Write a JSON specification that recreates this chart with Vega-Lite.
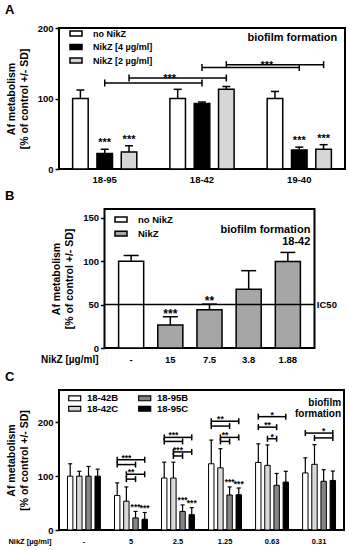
{
  "$schema": "https://vega.github.io/schema/vega-lite/v6.json",
  "padding": {"left": 4, "top": 3, "right": 2, "bottom": 2},
  "spacing": 5,
  "resolve": {"scale": {"fill": "independent", "x": "independent", "y": "independent", "xOffset": "independent"}, "legend": {"fill": "independent"}},
  "config": {
    "font": "Liberation Sans",
    "view": {"stroke": "black", "strokeWidth": 2},
    "axis": {"labelFont": "Liberation Sans", "titleFont": "Liberation Sans", "labelFontWeight": "bold", "titleFontWeight": "bold", "labelColor": "black", "titleColor": "black", "tickColor": "black", "domainColor": "black", "grid": false, "domain": false, "tickWidth": 1.5, "tickSize": 4},
    "axisY": {"labelFontSize": 9.5, "titleFontSize": 10.5, "labelPadding": 2, "titlePadding": 8, "titleLineHeight": 13},
    "axisX": {"ticks": false, "labelAngle": 0, "labelFontSize": 9.5, "labelPadding": 5},
    "legend": {"labelFont": "Liberation Sans", "labelFontWeight": "bold", "labelColor": "black", "symbolStrokeColor": "black", "symbolType": "M-1.5,-0.6H1.5V0.6H-1.5Z", "symbolSize": 64, "symbolOpacity": 1},
    "text": {"font": "Liberation Sans", "fontWeight": "bold", "color": "black"},
    "title": {"font": "Liberation Sans", "fontWeight": "bold", "fontSize": 13, "anchor": "start", "frame": "group", "color": "black"}
  },
  "datasets": {
    "a": [
      {"grp": "18-95", "trt": "no NikZ", "mean": 100, "hi": 112, "sig": ""},
      {"grp": "18-95", "trt": "NikZ [4 µg/ml]", "mean": 22, "hi": 28, "sig": "***"},
      {"grp": "18-95", "trt": "NikZ [2 µg/ml]", "mean": 24, "hi": 33, "sig": "***"},
      {"grp": "18-42", "trt": "no NikZ", "mean": 100, "hi": 113, "sig": ""},
      {"grp": "18-42", "trt": "NikZ [4 µg/ml]", "mean": 93, "hi": 95, "sig": ""},
      {"grp": "18-42", "trt": "NikZ [2 µg/ml]", "mean": 113, "hi": 117, "sig": ""},
      {"grp": "19-40", "trt": "no NikZ", "mean": 100, "hi": 110, "sig": ""},
      {"grp": "19-40", "trt": "NikZ [4 µg/ml]", "mean": 27, "hi": 31, "sig": "***"},
      {"grp": "19-40", "trt": "NikZ [2 µg/ml]", "mean": 28, "hi": 34.5, "sig": "***"}
    ],
    "aBr": [
      {"id": 1, "grp": "18-95", "trt": "NikZ [4 µg/ml]", "y": 122},
      {"id": 1, "grp": "18-42", "trt": "NikZ [4 µg/ml]", "y": 122},
      {"id": 2, "grp": "18-95", "trt": "NikZ [2 µg/ml]", "y": 129},
      {"id": 2, "grp": "18-42", "trt": "NikZ [2 µg/ml]", "y": 129},
      {"id": 3, "grp": "18-42", "trt": "NikZ [4 µg/ml]", "y": 144},
      {"id": 3, "grp": "19-40", "trt": "NikZ [4 µg/ml]", "y": 144},
      {"id": 4, "grp": "18-42", "trt": "NikZ [2 µg/ml]", "y": 148},
      {"id": 4, "grp": "19-40", "trt": "NikZ [2 µg/ml]", "y": 148}
    ],
    "aSig": [
      {"grp": "18-42", "trt": "no NikZ", "y": 129, "label": "***"},
      {"grp": "19-40", "trt": "no NikZ", "y": 148, "label": "***"}
    ],
    "b": [
      {"conc": "-", "trt": "no NikZ", "mean": 100, "hi": 106.5, "sig": ""},
      {"conc": "15", "trt": "NikZ", "mean": 26.5, "hi": 36, "sig": "***"},
      {"conc": "7.5", "trt": "NikZ", "mean": 44, "hi": 50.5, "sig": "**"},
      {"conc": "3.8", "trt": "NikZ", "mean": 67.5, "hi": 89, "sig": ""},
      {"conc": "1.88", "trt": "NikZ", "mean": 99.5, "hi": 110, "sig": ""}
    ],
    "c": [
      {"grp": "-", "ser": "18-42B", "mean": 100, "hi": 123, "sig": ""},
      {"grp": "-", "ser": "18-42C", "mean": 100, "hi": 109, "sig": ""},
      {"grp": "-", "ser": "18-95B", "mean": 100, "hi": 118, "sig": ""},
      {"grp": "-", "ser": "18-95C", "mean": 100, "hi": 113, "sig": ""},
      {"grp": "5", "ser": "18-42B", "mean": 64, "hi": 87.5, "sig": ""},
      {"grp": "5", "ser": "18-42C", "mean": 53.5, "hi": 80, "sig": ""},
      {"grp": "5", "ser": "18-95B", "mean": 22.5, "hi": 34.5, "sig": "***"},
      {"grp": "5", "ser": "18-95C", "mean": 20, "hi": 32.5, "sig": "***"},
      {"grp": "2.5", "ser": "18-42B", "mean": 96.5, "hi": 126, "sig": ""},
      {"grp": "2.5", "ser": "18-42C", "mean": 96.5, "hi": 126, "sig": ""},
      {"grp": "2.5", "ser": "18-95B", "mean": 34.5, "hi": 46.5, "sig": "***"},
      {"grp": "2.5", "ser": "18-95C", "mean": 28.5, "hi": 41.5, "sig": "***"},
      {"grp": "1.25", "ser": "18-42B", "mean": 123, "hi": 167, "sig": ""},
      {"grp": "1.25", "ser": "18-42C", "mean": 115.5, "hi": 151, "sig": ""},
      {"grp": "1.25", "ser": "18-95B", "mean": 65, "hi": 80, "sig": "***"},
      {"grp": "1.25", "ser": "18-95C", "mean": 65.5, "hi": 78, "sig": "***"},
      {"grp": "0.63", "ser": "18-42B", "mean": 125.5, "hi": 160, "sig": ""},
      {"grp": "0.63", "ser": "18-42C", "mean": 120, "hi": 158, "sig": ""},
      {"grp": "0.63", "ser": "18-95B", "mean": 83, "hi": 105, "sig": ""},
      {"grp": "0.63", "ser": "18-95C", "mean": 89, "hi": 109, "sig": ""},
      {"grp": "0.31", "ser": "18-42B", "mean": 106, "hi": 134, "sig": ""},
      {"grp": "0.31", "ser": "18-42C", "mean": 122, "hi": 158.5, "sig": ""},
      {"grp": "0.31", "ser": "18-95B", "mean": 90.5, "hi": 112, "sig": ""},
      {"grp": "0.31", "ser": "18-95C", "mean": 92, "hi": 109.5, "sig": ""}
    ],
    "cBr": [
      {"id": 1, "grp": "5", "ser": "18-42B", "y": 130.5}, {"id": 1, "grp": "5", "ser": "18-95C", "y": 130.5},
      {"id": 2, "grp": "5", "ser": "18-42B", "y": 121.5}, {"id": 2, "grp": "5", "ser": "18-95B", "y": 121.5},
      {"id": 3, "grp": "5", "ser": "18-42C", "y": 103.5}, {"id": 3, "grp": "5", "ser": "18-95C", "y": 103.5},
      {"id": 4, "grp": "5", "ser": "18-42C", "y": 94.5}, {"id": 4, "grp": "5", "ser": "18-95B", "y": 94.5},
      {"id": 5, "grp": "2.5", "ser": "18-42B", "y": 172}, {"id": 5, "grp": "2.5", "ser": "18-95C", "y": 172},
      {"id": 6, "grp": "2.5", "ser": "18-42B", "y": 164.5}, {"id": 6, "grp": "2.5", "ser": "18-95B", "y": 164.5},
      {"id": 7, "grp": "2.5", "ser": "18-42C", "y": 145}, {"id": 7, "grp": "2.5", "ser": "18-95C", "y": 145},
      {"id": 8, "grp": "2.5", "ser": "18-42C", "y": 137.5}, {"id": 8, "grp": "2.5", "ser": "18-95B", "y": 137.5},
      {"id": 9, "grp": "1.25", "ser": "18-42B", "y": 202}, {"id": 9, "grp": "1.25", "ser": "18-95C", "y": 202},
      {"id": 10, "grp": "1.25", "ser": "18-42B", "y": 193}, {"id": 10, "grp": "1.25", "ser": "18-95B", "y": 193},
      {"id": 11, "grp": "1.25", "ser": "18-42C", "y": 172}, {"id": 11, "grp": "1.25", "ser": "18-95C", "y": 172},
      {"id": 12, "grp": "1.25", "ser": "18-42C", "y": 164.5}, {"id": 12, "grp": "1.25", "ser": "18-95B", "y": 164.5},
      {"id": 13, "grp": "0.63", "ser": "18-42B", "y": 210.5}, {"id": 13, "grp": "0.63", "ser": "18-95C", "y": 210.5},
      {"id": 14, "grp": "0.63", "ser": "18-42B", "y": 191}, {"id": 14, "grp": "0.63", "ser": "18-95B", "y": 191},
      {"id": 15, "grp": "0.63", "ser": "18-42C", "y": 169.5}, {"id": 15, "grp": "0.63", "ser": "18-95B", "y": 169.5},
      {"id": 16, "grp": "0.31", "ser": "18-42B", "y": 180}, {"id": 16, "grp": "0.31", "ser": "18-95C", "y": 180},
      {"id": 17, "grp": "0.31", "ser": "18-42C", "y": 171}, {"id": 17, "grp": "0.31", "ser": "18-95C", "y": 171}
    ],
    "cSig": [
      {"grp": "5", "ser": "18-42C", "y": 130.5, "label": "***"},
      {"grp": "5", "ser": "mid", "y": 103.5, "label": "**"},
      {"grp": "2.5", "ser": "18-42C", "y": 172, "label": "***"},
      {"grp": "2.5", "ser": "mid", "y": 145, "label": "***"},
      {"grp": "1.25", "ser": "18-42C", "y": 202, "label": "**"},
      {"grp": "1.25", "ser": "mid", "y": 172, "label": "**"},
      {"grp": "0.63", "ser": "mid", "y": 210.5, "label": "*"},
      {"grp": "0.63", "ser": "18-42C", "y": 191, "label": "**"},
      {"grp": "0.63", "ser": "mid", "y": 169.5, "label": "*"},
      {"grp": "0.31", "ser": "18-95B", "y": 180, "label": "*"}
    ]
  },
  "vconcat": [
    {
      "width": 286, "height": 141,
      "title": {"text": "A", "dx": -54, "offset": 6},
      "encoding": {
        "x": {"field": "grp", "type": "nominal", "scale": {"domain": ["18-95", "18-42", "19-40"], "paddingInner": 0.34, "paddingOuter": 0.14}, "axis": {"title": null}},
        "xOffset": {"field": "trt", "type": "nominal", "scale": {"domain": ["no NikZ", "NikZ [4 µg/ml]", "NikZ [2 µg/ml]"], "paddingInner": 0.36, "paddingOuter": 0}}
      },
      "layer": [
        {
          "data": {"name": "a"},
          "mark": {"type": "bar", "stroke": "black", "strokeWidth": 1.5},
          "encoding": {
            "y": {"field": "mean", "type": "quantitative", "scale": {"domain": [0, 200]}, "axis": {"values": [0, 50, 100, 150, 200], "title": ["Af metabolism", "[% of control +/- SD]"]}},
            "fill": {"field": "trt", "type": "nominal", "scale": {"domain": ["no NikZ", "NikZ [4 µg/ml]", "NikZ [2 µg/ml]"], "range": ["white", "black", "#d6d6d6"]},
              "legend": {"title": null, "orient": "none", "legendX": 12, "legendY": 0.5, "labelFontSize": 9, "labelOffset": 12, "rowPadding": 1.5, "symbolStrokeWidth": 1.5}}
          }
        },
        {
          "data": {"name": "a"},
          "mark": {"type": "rule", "strokeWidth": 1.5, "color": "black"},
          "encoding": {"y": {"field": "hi", "type": "quantitative"}, "y2": {"field": "mean"}}
        },
        {
          "data": {"name": "a"},
          "mark": {"type": "tick", "thickness": 1.5, "size": 8, "color": "black", "opacity": 1},
          "encoding": {"y": {"field": "hi", "type": "quantitative"}}
        },
        {
          "data": {"name": "a"},
          "transform": [{"filter": "datum.sig != ''"}],
          "mark": {"type": "text", "fontSize": 11, "dy": -3, "baseline": "alphabetic"},
          "encoding": {"y": {"field": "hi", "type": "quantitative"}, "text": {"field": "sig"}}
        },
        {
          "data": {"name": "aBr"},
          "mark": {"type": "line", "strokeWidth": 1.5, "color": "black"},
          "encoding": {"y": {"field": "y", "type": "quantitative"}, "detail": {"field": "id"}}
        },
        {
          "data": {"name": "aBr"},
          "mark": {"type": "tick", "orient": "vertical", "thickness": 1.5, "size": 7, "color": "black", "opacity": 1},
          "encoding": {"y": {"field": "y", "type": "quantitative"}}
        },
        {
          "data": {"name": "aSig"},
          "mark": {"type": "text", "fontSize": 11, "dx": -8, "dy": 4, "baseline": "alphabetic"},
          "encoding": {"y": {"field": "y", "type": "quantitative"}, "text": {"field": "label"}}
        },
        {
          "data": {"values": [{}]},
          "mark": {"type": "text", "text": "biofilm formation", "fontSize": 11, "align": "right", "dx": 38, "baseline": "alphabetic"},
          "encoding": {"x": {"datum": "19-40", "type": "nominal"}, "xOffset": {"datum": "NikZ [4 µg/ml]", "type": "nominal"}, "y": {"datum": 181, "type": "quantitative"}}
        }
      ]
    },
    {
      "bounds": "flush",
      "spacing": 44.5,
      "resolve": {"scale": {"fill": "independent"}, "legend": {"fill": "independent"}},
      "hconcat": [
        {
          "width": 1, "height": 139,
          "view": {"stroke": null},
          "title": {"text": "B", "dx": -54, "offset": 6},
          "data": {"values": [{}]},
          "mark": {"type": "text", "text": ""},
          "encoding": {}
        },
        {
          "width": 210, "height": 139,
          "layer": [
            {
              "data": {"name": "b"},
              "mark": {"type": "bar", "stroke": "black", "strokeWidth": 1.5},
              "encoding": {
                "x": {"field": "conc", "type": "nominal", "title": "NikZ [µg/ml]", "scale": {"domain": ["-", "15", "7.5", "3.8", "1.88"], "paddingInner": 0.36, "paddingOuter": 0.36},
                  "axis": {"titleFontSize": 10, "titleAnchor": "start", "titleAlign": "right", "titleBaseline": "top", "titleX": -6.5, "titleY": 6, "labelBaseline": "top", "labelPadding": 6, "labelFontSize": 9.5}},
                "y": {"field": "mean", "type": "quantitative", "scale": {"domain": [0, 150]}, "axis": {"values": [0, 50, 100, 150], "title": ["Af metabolism", "[% of control +/- SD]"]}},
                "fill": {"field": "trt", "type": "nominal", "scale": {"domain": ["no NikZ", "NikZ"], "range": ["white", "#a6a6a6"]},
                  "legend": {"title": null, "orient": "none", "legendX": 11.5, "legendY": 5.5, "labelFontSize": 9.5, "labelOffset": 12, "rowPadding": 2.2, "symbolStrokeWidth": 1.5}}
              }
            },
            {
              "data": {"name": "b"},
              "mark": {"type": "rule", "strokeWidth": 1.5, "color": "black"},
              "encoding": {"x": {"field": "conc", "type": "nominal", "title": "NikZ [µg/ml]"}, "y": {"field": "hi", "type": "quantitative"}, "y2": {"field": "mean"}}
            },
            {
              "data": {"name": "b"},
              "mark": {"type": "tick", "thickness": 1.5, "size": 15, "color": "black", "opacity": 1},
              "encoding": {"x": {"field": "conc", "type": "nominal", "title": "NikZ [µg/ml]"}, "y": {"field": "hi", "type": "quantitative"}}
            },
            {
              "data": {"name": "b"},
              "transform": [{"filter": "datum.sig != ''"}],
              "mark": {"type": "text", "fontSize": 12, "dy": 1, "baseline": "alphabetic"},
              "encoding": {"x": {"field": "conc", "type": "nominal", "title": "NikZ [µg/ml]"}, "y": {"field": "hi", "type": "quantitative"}, "text": {"field": "sig"}}
            },
            {
              "data": {"values": [{}]},
              "mark": {"type": "rule", "strokeWidth": 1.5, "color": "black"},
              "encoding": {"y": {"datum": 50, "type": "quantitative"}}
            },
            {
              "data": {"values": [{}]},
              "mark": {"type": "text", "text": "IC50", "fontSize": 9.5, "align": "left", "dx": 29, "baseline": "middle"},
              "encoding": {"x": {"datum": "1.88", "type": "nominal"}, "y": {"datum": 50, "type": "quantitative"}}
            },
            {
              "data": {"values": [{}]},
              "mark": {"type": "text", "text": ["biofilm formation", "18-42"], "fontSize": 11, "lineHeight": 12, "align": "right", "dx": 22.5, "baseline": "alphabetic"},
              "encoding": {"x": {"datum": "1.88", "type": "nominal"}, "y": {"datum": 132, "type": "quantitative"}}
            }
          ]
        }
      ]
    },
    {
      "width": 285, "height": 140,
      "title": {"text": "C", "dx": -54, "offset": 6},
      "encoding": {
        "x": {"field": "grp", "type": "nominal", "scale": {"domain": ["-", "5", "2.5", "1.25", "0.63", "0.31"], "paddingInner": 0.3, "paddingOuter": 0.18},
          "axis": {"title": "NikZ [µg/ml]", "titleFontSize": 7.5, "titleAnchor": "start", "titleAlign": "right", "titleBaseline": "top", "titleX": -8, "titleY": 7, "labelBaseline": "top", "labelPadding": 7, "labelFontSize": 7.5}}
      },
      "layer": [
        {
          "data": {"name": "c"},
          "mark": {"type": "bar", "stroke": "black", "strokeWidth": 1},
          "encoding": {
            "xOffset": {"field": "ser", "type": "nominal", "scale": {"domain": ["18-42B", "18-42C", "18-95B", "18-95C"], "paddingInner": 0.41, "paddingOuter": 0}},
            "y": {"field": "mean", "type": "quantitative", "scale": {"domain": [0, 250]}, "axis": {"values": [0, 50, 100, 150, 200, 250], "title": ["Af metabolism", "[% of control +/- SD]"]}},
            "fill": {"field": "ser", "type": "nominal", "scale": {"domain": ["18-42B", "18-42C", "18-95B", "18-95C"], "range": ["white", "#d9d9d9", "#858585", "black"]},
              "legend": {"title": null, "orient": "none", "legendX": 10.7, "legendY": 3.25, "columns": 2, "columnPadding": 17, "labelFontSize": 9.5, "labelOffset": 7.3, "rowPadding": 0.5, "symbolStrokeWidth": 1.2}}
          }
        },
        {
          "data": {"name": "c"},
          "mark": {"type": "rule", "strokeWidth": 1.2, "color": "black"},
          "encoding": {"xOffset": {"field": "ser", "type": "nominal"}, "y": {"field": "hi", "type": "quantitative"}, "y2": {"field": "mean"}}
        },
        {
          "data": {"name": "c"},
          "mark": {"type": "tick", "thickness": 1.2, "size": 4, "color": "black", "opacity": 1},
          "encoding": {"xOffset": {"field": "ser", "type": "nominal"}, "y": {"field": "hi", "type": "quantitative"}}
        },
        {
          "data": {"name": "c"},
          "transform": [{"filter": "datum.sig != ''"}],
          "mark": {"type": "text", "fontSize": 8.5, "dy": -1.5, "baseline": "alphabetic"},
          "encoding": {"xOffset": {"field": "ser", "type": "nominal"}, "y": {"field": "hi", "type": "quantitative"}, "text": {"field": "sig"}}
        },
        {
          "data": {"name": "cBr"},
          "mark": {"type": "line", "strokeWidth": 1.5, "color": "black"},
          "encoding": {"xOffset": {"field": "ser", "type": "nominal"}, "y": {"field": "y", "type": "quantitative"}, "detail": {"field": "id"}}
        },
        {
          "data": {"name": "cBr"},
          "mark": {"type": "tick", "orient": "vertical", "thickness": 1.5, "size": 6, "color": "black", "opacity": 1},
          "encoding": {"xOffset": {"field": "ser", "type": "nominal"}, "y": {"field": "y", "type": "quantitative"}}
        },
        {
          "data": {"name": "cSig"},
          "transform": [{"filter": "datum.ser != 'mid'"}],
          "mark": {"type": "text", "fontSize": 8.5, "dy": 1, "baseline": "alphabetic"},
          "encoding": {"xOffset": {"field": "ser", "type": "nominal"}, "y": {"field": "y", "type": "quantitative"}, "text": {"field": "label"}}
        },
        {
          "data": {"name": "cSig"},
          "transform": [{"filter": "datum.ser == 'mid'"}],
          "mark": {"type": "text", "fontSize": 8.5, "dy": 1, "baseline": "alphabetic"},
          "encoding": {"y": {"field": "y", "type": "quantitative"}, "text": {"field": "label"}}
        },
        {
          "data": {"values": [{}]},
          "mark": {"type": "text", "text": ["biofilm", "formation"], "fontSize": 10, "lineHeight": 10.5, "align": "right", "dx": 22, "baseline": "alphabetic"},
          "encoding": {"x": {"datum": "0.31", "type": "nominal"}, "y": {"datum": 230, "type": "quantitative"}}
        }
      ]
    }
  ]
}
